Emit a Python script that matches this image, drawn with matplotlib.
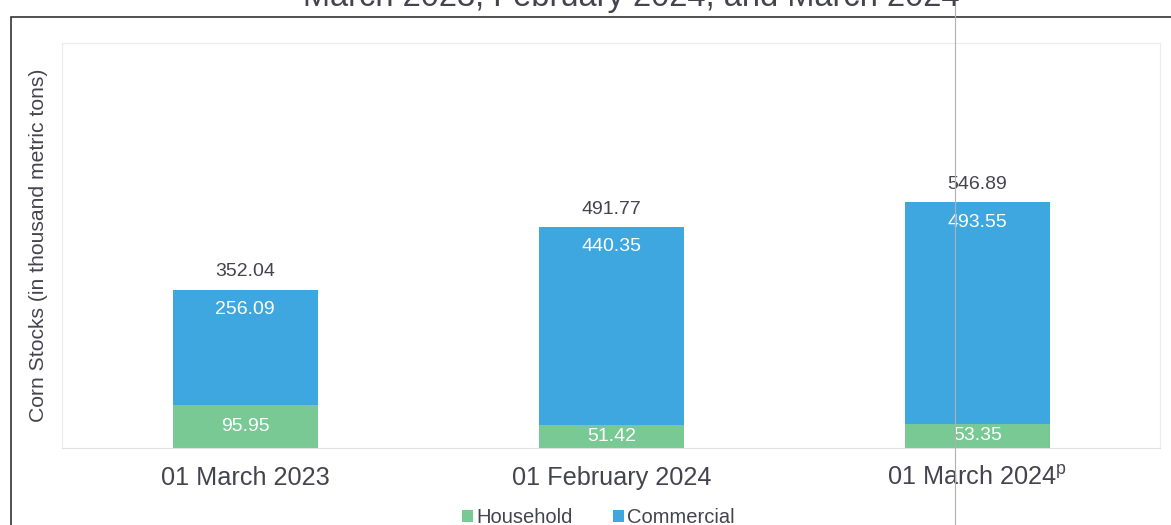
import numpy as np
import matplotlib.pyplot as plt
from matplotlib.patches import Rectangle
from matplotlib.lines import Line2D

plt.rcParams['font.family'] = ['Liberation Sans', 'DejaVu Sans']

dates = ["01 March 2023", "01 February 2024", "01 March 2024$^{\\mathregular{p}}$"]
household = [95.95, 51.42, 53.35]
commercial = [256.09, 440.35, 493.55]
totals = [352.04, 491.77, 546.89]

green = '#78c993'
blue = '#3fa7e0'
txt = '#44444f'

fig = plt.figure(figsize=(11.71, 5.25), dpi=100)
ax = fig.add_axes([0.053, 0.147, 0.938, 0.771])

x = np.arange(len(dates))
w = 0.396
ax.bar(x, household, w, color=green, label='Household')
ax.bar(x, commercial, w, bottom=household, color=blue, label='Commercial')

for i in range(len(x)):
    ax.text(x[i], household[i] / 2, f"{household[i]:.2f}", ha='center', va='center',
            color='white', fontsize=14)
    ax.text(x[i], totals[i] - 44, f"{commercial[i]:.2f}", ha='center', va='center',
            color='white', fontsize=14)
    ax.text(x[i], totals[i] + 40, f"{totals[i]:.2f}", ha='center', va='center',
            color=txt, fontsize=14)

ax.set_xlim(-0.5, 2.5)
ax.set_ylim(0, 902)
ax.set_xticks(x)
ax.set_xticklabels(dates, fontsize=18.2, color=txt)
ax.tick_params(axis='x', length=0, pad=13)
ax.set_yticks([])
ax.set_ylabel("Corn Stocks (in thousand metric tons)", fontsize=15.2, color=txt, labelpad=10)
for s in ['left', 'right', 'top']:
    ax.spines[s].set_color('#ececec')
    ax.spines[s].set_linewidth(0.8)
ax.spines['bottom'].set_color('#e0e0e0')

ax.legend(loc='upper center', bbox_to_anchor=(0.488, -0.105), ncol=2, frameon=False,
          fontsize=14.5, handlelength=0.55, handleheight=0.55, handletextpad=0.15,
          columnspacing=2.0, labelcolor=txt)

# outer frame (right side runs off the page) and partially cut-off title
fig.patches.append(Rectangle((11 / 1171, -0.05), 1.2, 1.05 - 17 / 525,
                             transform=fig.transFigure, fill=False,
                             edgecolor='#333333', linewidth=1.2))
fig.text(0.539, 1.004, "March 2023, February 2024, and March 2024", ha='center',
         va='center', fontsize=23.5, color=txt)
fig.lines.append(Line2D([955 / 1171, 955 / 1171], [0, 1], transform=fig.transFigure,
                        color='#b0b0b0', linewidth=0.8))

fig.savefig('out.png', dpi=100)
